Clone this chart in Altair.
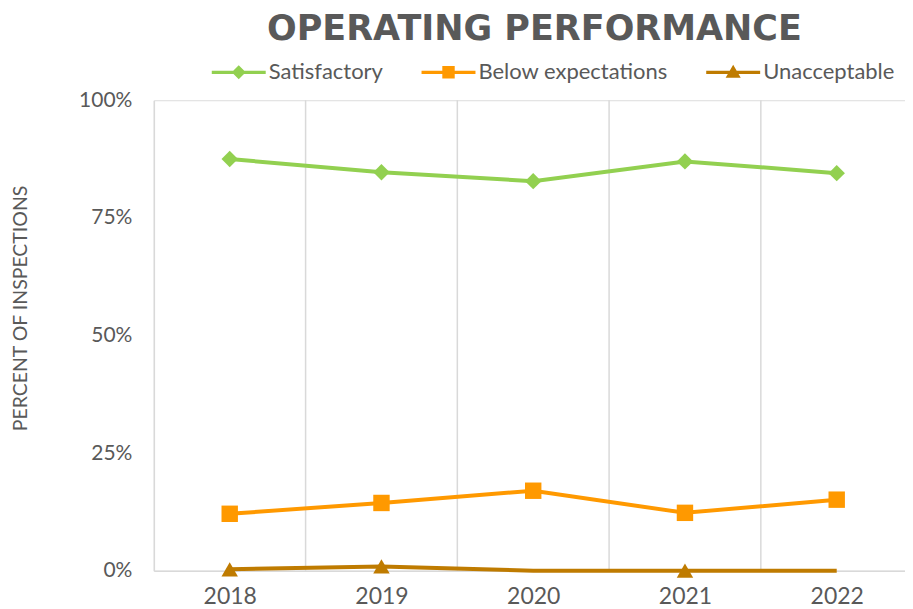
import altair as alt
import pandas as pd

years = [2018, 2019, 2020, 2021, 2022]
series = ["Satisfactory", "Below expectations", "Unacceptable"]
satisfactory = [0.875, 0.847, 0.828, 0.870, 0.845]
below = [0.121, 0.144, 0.170, 0.123, 0.151]
unacceptable = [0.003, 0.009, 0.0, 0.0, 0.0]
unacceptable_markers = [0.003, 0.009, None, 0.0, None]
grid_bounds = [2018.5, 2019.5, 2020.5, 2021.5]
y_ticks = [0, 0.25, 0.5, 0.75, 1.0]
colors = ["#92D050", "#FF9900", "#BF7B00"]
shapes = ["diamond", "square", "triangle-up"]
legend_shapes = [
    "M-1,-0.06L1,-0.06L1,0.06L-1,0.06Z M0,-0.26L0.26,0L0,0.26L-0.26,0Z",
    "M-1,-0.06L1,-0.06L1,0.06L-1,0.06Z M-0.23,-0.23L0.23,-0.23L0.23,0.23L-0.23,0.23Z",
    "M-1,-0.06L1,-0.06L1,0.06L-1,0.06Z M0,-0.28L0.28,0.2L-0.28,0.2Z",
]

rows = []
for s, vals, marks in [
    (series[0], satisfactory, satisfactory),
    (series[1], below, below),
    (series[2], unacceptable, unacceptable_markers),
]:
    for y, v, m in zip(years, vals, marks):
        rows.append({"year": y, "series": s, "value": v, "marker": m})
df = pd.DataFrame(rows)
grid_df = pd.DataFrame({"x": grid_bounds})

FONT = "Lato"
GRAY = "#595959"
LINEGRAY = "#D9D9D9"

x_scale = alt.Scale(domain=[2017.5, 2022.45], nice=False, zero=False)
y_scale = alt.Scale(domain=[0, 1], nice=False)


def cscale():
    return alt.Scale(domain=series, range=colors)


grid = alt.Chart(grid_df).mark_rule(color=LINEGRAY, strokeWidth=1.5).encode(
    x=alt.X("x:Q", scale=x_scale)
)

lines = alt.Chart(df).mark_line(strokeWidth=4).encode(
    x=alt.X(
        "year:Q",
        scale=x_scale,
        axis=alt.Axis(
            values=years,
            format="d",
            title=None,
            grid=False,
            ticks=False,
            labelFont=FONT,
            labelFontSize=23,
            labelColor=GRAY,
            labelPadding=15,
            domainColor=LINEGRAY,
            domainWidth=1.5,
        ),
    ),
    y=alt.Y(
        "value:Q",
        scale=y_scale,
        axis=alt.Axis(
            values=y_ticks,
            format=".0%",
            title="PERCENT OF INSPECTIONS",
            titleFont=FONT,
            titleFontSize=19.5,
            titleFontWeight="normal",
            titleColor=GRAY,
            titlePadding=48,
            titleY=208,
            grid=False,
            ticks=False,
            labelFont=FONT,
            labelFontSize=21,
            labelColor=GRAY,
            labelPadding=22,
            domainColor=LINEGRAY,
            domainWidth=1.5,
        ),
    ),
    color=alt.Color("series:N", scale=cscale(), legend=None),
    detail="series:N",
)

points = alt.Chart(df).mark_point(filled=True, opacity=1, size=270).encode(
    x=alt.X("year:Q", scale=x_scale),
    y=alt.Y("marker:Q", scale=y_scale),
    color=alt.Color("series:N", scale=cscale(), legend=None),
    shape=alt.Shape("series:N", scale=alt.Scale(domain=series, range=shapes), legend=None),
).transform_filter("isValid(datum.marker)")

legend_kw = dict(
    title=None,
    orient="none",
    direction="horizontal",
    legendX=58,
    legendY=-55,
    labelFont=FONT,
    labelFontSize=22,
    labelColor=GRAY,
    labelLimit=400,
    symbolSize=2916,
    symbolStrokeWidth=0,
    symbolOpacity=1,
    labelOffset=3,
    columnPadding=38,
)

legend_layer = alt.Chart(df).mark_point(filled=True, opacity=1, size=0).encode(
    x=alt.X("year:Q", scale=x_scale),
    y=alt.Y("value:Q", scale=y_scale),
    color=alt.Color("series:N", scale=cscale(), sort=series, legend=alt.Legend(**legend_kw)),
    shape=alt.Shape(
        "series:N",
        sort=series,
        scale=alt.Scale(domain=series, range=legend_shapes),
        legend=alt.Legend(**legend_kw),
    ),
)

chart = (
    alt.layer(grid, lines, points, legend_layer)
    .resolve_scale(shape="independent", color="independent")
    .properties(
        width=752,
        height=471,
        title=alt.TitleParams(
            "OPERATING PERFORMANCE",
            font="DejaVu Sans",
            fontSize=35,
            fontWeight="bold",
            color=GRAY,
            anchor="middle",
            offset=-2,
            dx=5,
        ),
        padding={"left": 2, "top": 4, "right": 0, "bottom": 0},
    )
    .configure_view(stroke=None)
    .configure(background="white")
)

chart.save("out.html", embed_options={"renderer": "svg", "actions": False})
